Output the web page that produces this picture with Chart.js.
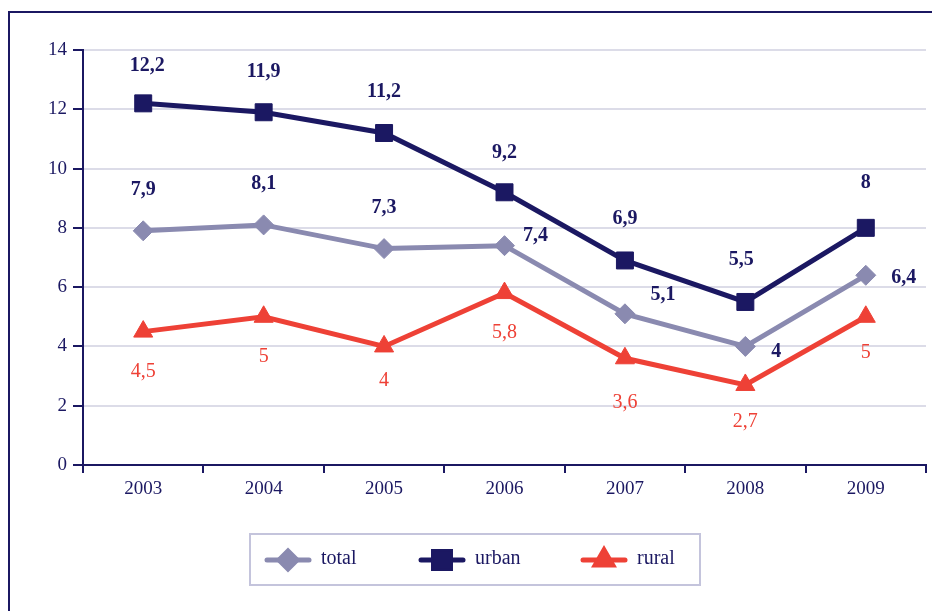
<!DOCTYPE html>
<html>
<head>
<meta charset="utf-8">
<script src="https://cdn.jsdelivr.net/npm/chart.js@4/dist/chart.umd.min.js"></script>
<style>
  html, body { margin: 0; padding: 0; background: #fff; }
  canvas { display: block; }
</style>
</head>
<body>
<canvas id="chart" width="932" height="611"></canvas>
<script>
const years = ["2003", "2004", "2005", "2006", "2007", "2008", "2009"];

const total = [7.9, 8.1, 7.3, 7.4, 5.1, 4, 6.4];
const urban = [12.2, 11.9, 11.2, 9.2, 6.9, 5.5, 8];
const rural = [4.5, 5, 4, 5.8, 3.6, 2.7, 5];

const yTicks = [0, 2, 4, 6, 8, 10, 12, 14];

// label offsets from each point, in px
const totalOffsets = [[0, -41], [0, -41], [0, -41], [31, -10], [38, -19], [31, 5], [38, 3]];
const urbanOffsets = [[4, -38], [0, -40], [0, -41], [0, -39], [0, -42], [-4, -42], [0, -45]];
const ruralOffsets = [[0, 40], [0, 40], [0, 34], [0, 40], [0, 44], [0, 37], [0, 36]];

const NAVY = "#1b1862";
const LAV = "#8a8ab0";
const RED = "#ee4136";
const GRID = "#dcdce8";
const FONT = "'Liberation Serif', 'DejaVu Serif', serif";

const fmt = v => String(v).replace(".", ",");

const valueLabels = {
  id: "valueLabels",
  afterDatasetsDraw(chart) {
    const ctx = chart.ctx;
    ctx.save();
    ctx.textAlign = "center";
    ctx.textBaseline = "middle";
    chart.data.datasets.forEach((ds, i) => {
      const meta = chart.getDatasetMeta(i);
      ctx.fillStyle = ds.labelColor;
      ctx.font = ds.labelFont;
      meta.data.forEach((pt, j) => {
        const off = ds.labelOffsets[j];
        ctx.fillText(fmt(ds.data[j]), pt.x + off[0], pt.y + off[1]);
      });
    });
    ctx.restore();
  }
};

// outer frame and the boxed legend under the plot
const frameAndLegend = {
  id: "frameAndLegend",
  afterDraw(chart) {
    const ctx = chart.ctx;
    ctx.save();
    ctx.strokeStyle = NAVY;
    ctx.lineWidth = 2;
    ctx.strokeRect(9, 12, 940, 620);

    ctx.strokeStyle = "#c4c4dc";
    ctx.lineWidth = 2;
    ctx.strokeRect(250, 534, 450, 51);

    const items = [[267, 0, 9], [421, 1, 12], [583, 2, 10]];
    items.forEach(([x0, i, r]) => {
      const ds = chart.data.datasets[i];
      const y = 560;
      ctx.strokeStyle = ds.borderColor;
      ctx.lineWidth = 5;
      ctx.lineCap = "round";
      ctx.beginPath();
      ctx.moveTo(x0, y);
      ctx.lineTo(x0 + 42, y);
      ctx.stroke();
      Chart.helpers.drawPoint(ctx, {
        pointStyle: ds.pointStyle,
        radius: r,
        borderWidth: 1,
        rotation: 0
      }, x0 + 21, y);
      ctx.fillStyle = ds.borderColor;
      ctx.fill();
      ctx.fillStyle = NAVY;
      ctx.font = "20px " + FONT;
      ctx.textAlign = "left";
      ctx.textBaseline = "middle";
      ctx.fillText(ds.label, x0 + 54, y - 1);
    });
    ctx.restore();
  }
};

new Chart(document.getElementById("chart"), {
  type: "line",
  data: {
    labels: years,
    datasets: [
      {
        label: "total",
        data: total,
        borderColor: LAV,
        backgroundColor: LAV,
        borderWidth: 5,
        pointStyle: "rectRot",
        pointRadius: 10,
        pointBorderWidth: 1,
        labelColor: NAVY,
        labelFont: "bold 20px " + FONT,
        labelOffsets: totalOffsets
      },
      {
        label: "urban",
        data: urban,
        borderColor: NAVY,
        backgroundColor: NAVY,
        borderWidth: 5,
        pointStyle: "rect",
        pointRadius: 12,
        pointBorderWidth: 1,
        labelColor: NAVY,
        labelFont: "bold 20px " + FONT,
        labelOffsets: urbanOffsets
      },
      {
        label: "rural",
        data: rural,
        borderColor: RED,
        backgroundColor: RED,
        borderWidth: 5,
        pointStyle: "triangle",
        pointRadius: 11,
        pointBorderWidth: 1,
        labelColor: RED,
        labelFont: "20px " + FONT,
        labelOffsets: ruralOffsets
      }
    ]
  },
  options: {
    responsive: false,
    animation: false,
    layout: { autoPadding: false, padding: { top: 50, right: 6, bottom: 106, left: 0 } },
    plugins: {
      legend: { display: false },
      tooltip: { enabled: false }
    },
    scales: {
      x: {
        offset: true,
        grid: {
          offset: true,
          drawOnChartArea: false,
          tickLength: 8,
          tickColor: NAVY,
          lineWidth: 2
        },
        border: { color: NAVY, width: 2 },
        ticks: {
          color: NAVY,
          padding: 5,
          font: { family: FONT, size: 19 }
        },
        afterFit: scale => { scale.height = 40; }
      },
      y: {
        min: 0,
        max: 14,
        afterBuildTicks: scale => { scale.ticks = yTicks.map(v => ({ value: v })); },
        grid: {
          color: GRID,
          lineWidth: 2,
          tickLength: 10,
          tickColor: NAVY
        },
        border: { color: NAVY, width: 2 },
        ticks: {
          color: NAVY,
          padding: 6,
          font: { family: FONT, size: 19 }
        },
        afterFit: scale => { scale.width = 83; }
      }
    }
  },
  plugins: [valueLabels, frameAndLegend]
});
</script>
</body>
</html>
